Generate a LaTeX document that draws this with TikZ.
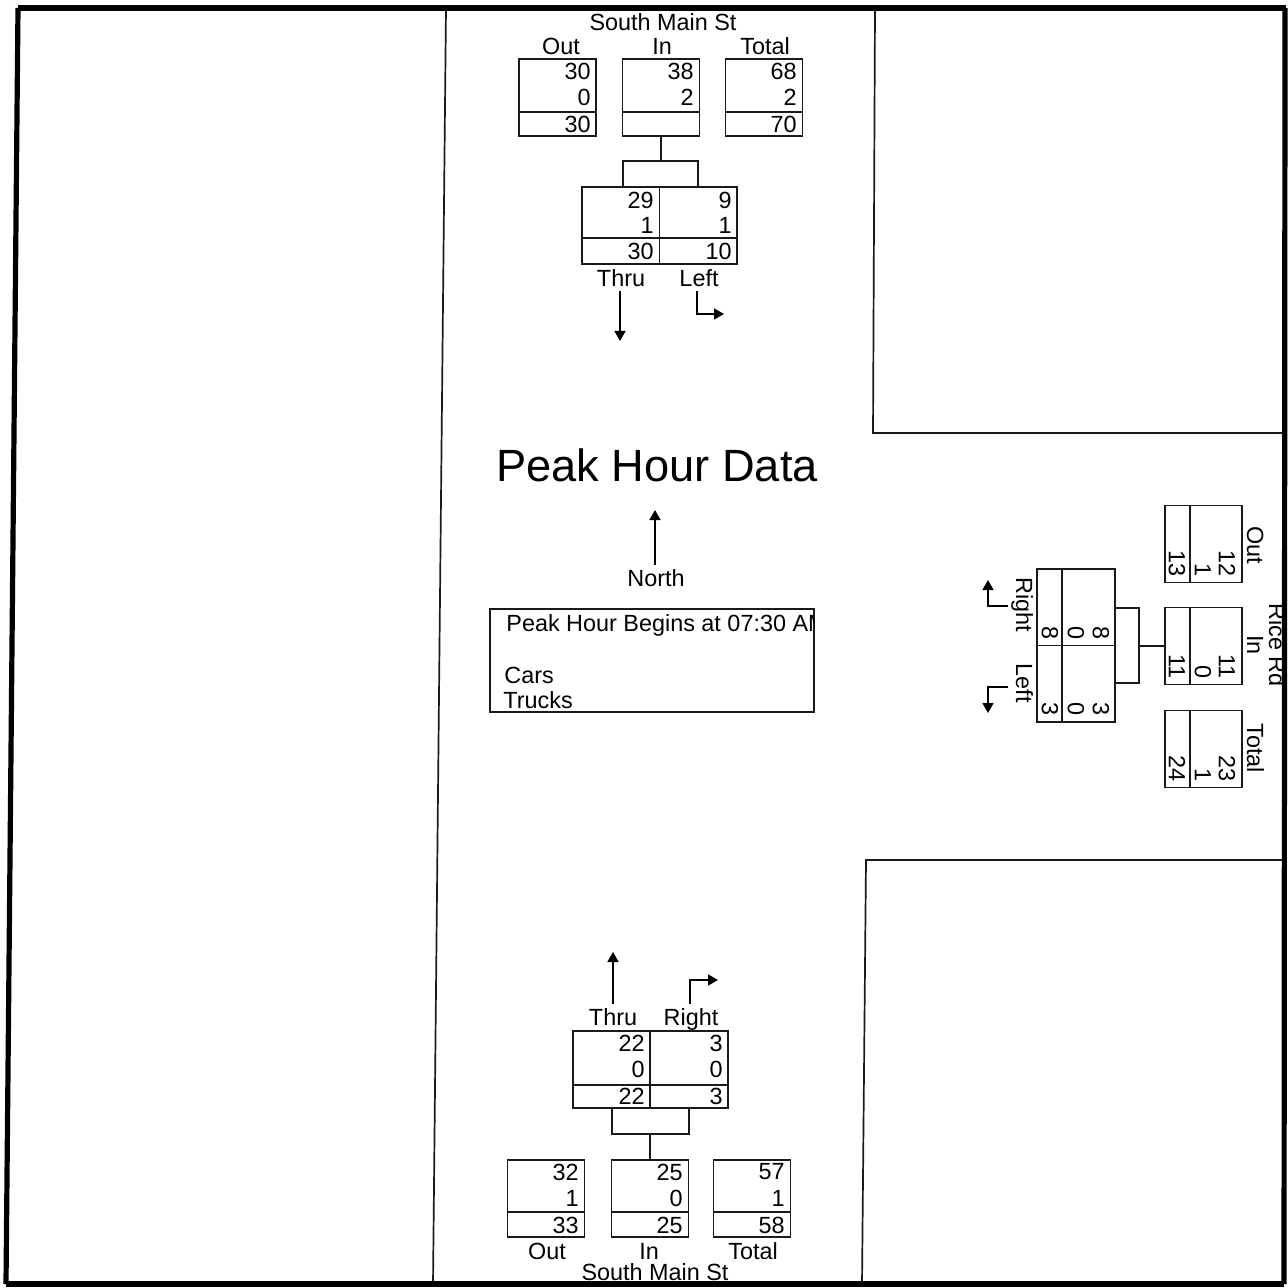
\documentclass[tikz,border=0pt]{standalone}
\usepackage{fontspec}
\setmainfont{Liberation Sans}
\usetikzlibrary{arrows.meta}
\definecolor{ink}{RGB}{30,24,28}
\tikzset{
  lbl/.style={inner sep=0pt, text=black, font=\fontsize{11.7}{13}\selectfont},
  word/.style={lbl, text height=8.4pt, text depth=2.4pt, yshift=-1.2pt},
  num/.style={lbl, anchor=east},
  rlbl/.style={lbl, text height=8.4pt, text depth=2.4pt, rotate=-90},
  rnum/.style={lbl, rotate=-90, anchor=east},
  sq/.style={draw=ink, line width=0.95pt, minimum width=38.5pt, minimum height=38.5pt, inner sep=0pt},
  mv/.style={draw=ink, line width=0.95pt, minimum width=77.5pt, minimum height=38.5pt, inner sep=0pt},
  rmv/.style={draw=ink, line width=0.95pt, minimum width=39pt, minimum height=76.5pt, inner sep=0pt},
  thin/.style={draw=ink, line width=0.85pt},
  frame/.style={draw=black, line width=2.6pt},
  arr/.style={draw=black, line width=0.8pt, -{Triangle[length=5pt,width=5.5pt]}},
}
\begin{document}
\begin{tikzpicture}[x=0.5pt,y=-0.5pt]
\useasboundingbox (0,0) rectangle (1288,1288);

% ---------- top approach ----------
\node[word] (tName) at (663,22) {South Main St};
\node[word] (tOutL) at (561,46) {Out};
\node[word] (tInL) at (662,46) {In};
\node[word] (tTotL) at (765,46) {Total};
\node[sq] (tOut) at (557.5,97.5) {};
\node[sq] (tIn) at (661,97.5) {};
\node[sq] (tTot) at (764,97.5) {};
\draw[thin] (519,112) -- (596,112);
\draw[thin] (622,112) -- (700,112);
\draw[thin] (725,112) -- (803,112);
\node[num] (n1) at (591,71) {30};
\node[num] (n2) at (591,97) {0};
\node[num] (n3) at (591,124) {30};
\node[num] (n4) at (694,71) {38};
\node[num] (n5) at (694,97) {2};
\node[num] (n6) at (797,71) {68};
\node[num] (n7) at (797,97) {2};
\node[num] (n8) at (797,124) {70};

\node[mv] (tMv) at (659.5,225.5) {};
\draw[thin] (tMv.north) -- (tMv.south);
\draw[thin] (582,238) -- (737,238);
\node[num] (n9) at (654,200) {29};
\node[num] (n10) at (654,225) {1};
\node[num] (n11) at (654,251) {30};
\node[num] (n12) at (732,200) {9};
\node[num] (n13) at (732,225) {1};
\node[num] (n14) at (732,251) {10};
\coordinate (tB) at (661,161);
\coordinate (tBL) at (623,187);
\coordinate (tBR) at (698,187);
\draw[thin] (tIn.south) -- (tB);
\draw[thin] (tBL) |- (tB) -| (tBR);
\node[word] (tThru) at (621,278) {Thru};
\node[word] (tLeft) at (699,278) {Left};
\coordinate (tA1) at (620,291);
\coordinate (tA2) at (620,341);
\draw[arr] (tA1) -- (tA2);
\coordinate (tA3) at (697,291);
\coordinate (tA4) at (724,314);
\draw[arr] (tA3) |- (tA4);

% ---------- centre ----------
\node[inner sep=0pt, font=\fontsize{22.6}{26}\selectfont] (title) at (657,465) {Peak Hour Data};
\node[word] (north) at (656,578) {North};
\coordinate (nA) at (655,565);
\coordinate (nB) at (655,510);
\draw[arr] (nA) -- (nB);
\node[draw=ink, line width=0.95pt, minimum width=162pt, minimum height=51.5pt, inner sep=0pt] (info) at (652,660.5) {};
\begin{scope}
\clip (490,609) rectangle (814,712);
\node[word, anchor=west] (begins) at (506,623) {Peak Hour Begins at 07:30 AM};
\end{scope}
\node[word, anchor=west] (cars) at (504,675) {Cars};
\node[word, anchor=west] (trucks) at (503,700) {Trucks};

% ---------- right approach (Rice Rd) ----------
\node[rlbl] (rName) at (1275,645) {Rice Rd};
\node[rlbl] (rOutL) at (1253,545) {Out};
\node[rlbl] (rInL) at (1253,645) {In};
\node[rlbl] (rTotL) at (1253,748) {Total};
\node[sq] (rOut) at (1203.5,544) {};
\node[sq] (rIn) at (1203.5,646) {};
\node[sq] (rTot) at (1203.5,749) {};
\draw[thin] (1190,505) -- (1190,583);
\draw[thin] (1190,607) -- (1190,685);
\draw[thin] (1190,710) -- (1190,788);
\node[rnum] (r1) at (1227,577) {12};
\node[rnum] (r2) at (1203,577) {1};
\node[rnum] (r3) at (1177,577) {13};
\node[rnum] (r4) at (1227,679) {11};
\node[rnum] (r5) at (1203,679) {0};
\node[rnum] (r6) at (1177,679) {11};
\node[rnum] (r7) at (1227,782) {23};
\node[rnum] (r8) at (1203,782) {1};
\node[rnum] (r9) at (1177,782) {24};

\node[rmv] (rMv) at (1076,645.5) {};
\draw[thin] (rMv.west) -- (rMv.east);
\draw[thin] (1062,569) -- (1062,722);
\node[rnum] (r10) at (1101,640) {8};
\node[rnum] (r11) at (1076,640) {0};
\node[rnum] (r12) at (1050,640) {8};
\node[rnum] (r13) at (1101,716) {3};
\node[rnum] (r14) at (1076,716) {0};
\node[rnum] (r15) at (1050,716) {3};
\coordinate (rBT) at (1115,608);
\coordinate (rBB) at (1115,683);
\coordinate (rB) at (1139,646);
\draw[thin] (rBT) -| (rB) |- (rBB);
\draw[thin] (rB) -- (rIn.west);
\node[rlbl] (rRight) at (1022,605) {Right};
\node[rlbl] (rLeft) at (1022,683) {Left};
\coordinate (rA1) at (1008,606);
\coordinate (rA2) at (988,580);
\draw[arr] (rA1) -| (rA2);
\coordinate (rA3) at (1008,687);
\coordinate (rA4) at (988,713);
\draw[arr] (rA3) -| (rA4);

% ---------- bottom approach ----------
\coordinate (bA1) at (613,1004);
\coordinate (bA2) at (613,952);
\draw[arr] (bA1) -- (bA2);
\coordinate (bA3) at (690,1004);
\coordinate (bA4) at (718,980);
\draw[arr] (bA3) |- (bA4);
\node[word] (bThru) at (613,1017) {Thru};
\node[word] (bRight) at (691,1017) {Right};
\node[mv] (bMv) at (650.5,1069.5) {};
\draw[thin] (650,1031) -- (650,1108);
\draw[thin] (573,1085) -- (728,1085);
\node[num] (b1) at (645,1043) {22};
\node[num] (b2) at (645,1069) {0};
\node[num] (b3) at (645,1096) {22};
\node[num] (b4) at (723,1043) {3};
\node[num] (b5) at (723,1069) {0};
\node[num] (b6) at (723,1096) {3};
\coordinate (bBL) at (612,1108);
\coordinate (bBR) at (689,1108);
\coordinate (bB) at (650,1134);
\draw[thin] (bBL) |- (bB) -| (bBR);

\node[sq] (bOut) at (546,1198.5) {};
\node[sq] (bIn) at (650,1198.5) {};
\node[sq] (bTot) at (752,1198.5) {};
\draw[thin] (bB) -- (bIn.north);
\draw[thin] (507,1212) -- (585,1212);
\draw[thin] (611,1212) -- (689,1212);
\draw[thin] (713,1212) -- (791,1212);
\node[num] (b7) at (579,1172) {32};
\node[num] (b8) at (579,1198) {1};
\node[num] (b9) at (579,1225) {33};
\node[num] (b10) at (683,1172) {25};
\node[num] (b11) at (683,1198) {0};
\node[num] (b12) at (683,1225) {25};
\node[num] (b13) at (785,1172) {57};
\node[num] (b14) at (785,1198) {1};
\node[num] (b15) at (785,1225) {58};
\node[word] (bOutL) at (547,1251) {Out};
\node[word] (bInL) at (649,1251) {In};
\node[word] (bTotL) at (753,1251) {Total};
\node[word] (bName) at (655,1272) {South Main St};

% ---------- frame ----------
\draw[thin] (446,8) -- (433,1284);
\draw[thin] (875,8) -- (873,433) -- (1286,433);
\draw[thin] (1286,860) -- (866,860) -- (862,1284);
\draw[frame] (18,8) -- (1286,8);
\draw[frame] (6,1284) -- (1284,1284);
\draw[frame] (18,8) -- (6,1284);
\draw[frame] (1285,8) -- (1284,1284);
\end{tikzpicture}
\end{document}
